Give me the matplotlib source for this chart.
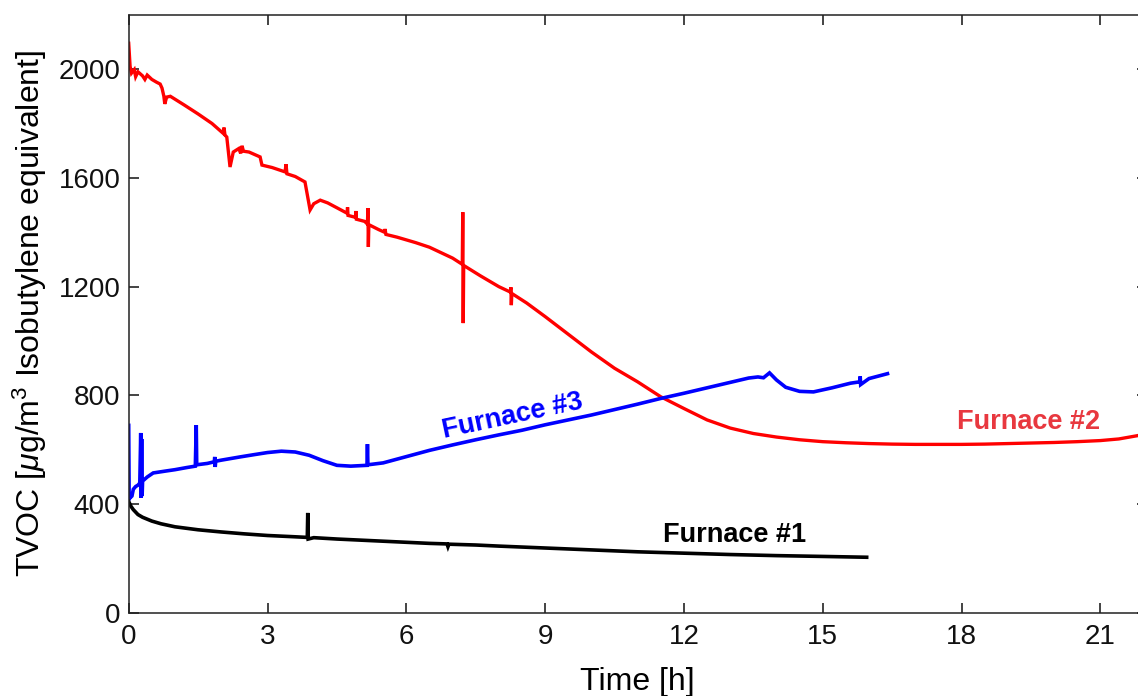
import matplotlib
matplotlib.use("Agg")
import matplotlib.pyplot as plt

plt.rcParams['font.family'] = ['Liberation Sans', 'DejaVu Sans']
plt.rcParams['mathtext.fontset'] = 'custom'
plt.rcParams['mathtext.rm'] = 'Liberation Sans'
plt.rcParams['mathtext.it'] = 'Liberation Sans:italic'
plt.rcParams['mathtext.bf'] = 'Liberation Sans:bold'

# Furnace #1 (black)
f1_t = [0.0, 0.05, 0.1, 0.2, 0.3, 0.5, 0.7, 1.0, 1.5, 2.0, 2.5, 3.0, 3.5, 3.86, 3.87, 3.88,
        4.0, 4.5, 5.0, 5.5, 6.0, 6.5, 6.88, 6.9, 6.92, 7.5, 8.0, 9.0, 10.0, 11.0, 12.0,
        13.0, 14.0, 15.0, 15.95]
f1_v = [410, 392, 380, 362, 352, 338, 328, 317, 306, 298, 291, 285, 281, 278, 368, 272,
        277, 272, 268, 264, 260, 256, 254, 244, 253, 250, 246, 239, 232, 225, 220,
        215, 211, 208, 205]

# Furnace #2 (red)
f2_t = [0.0, 0.03, 0.06, 0.12, 0.15, 0.2, 0.3, 0.35, 0.4, 0.5, 0.6, 0.68, 0.72, 0.76, 0.78,
        0.82, 0.9, 1.2, 1.5, 1.8, 2.04, 2.06, 2.08, 2.12, 2.19, 2.26, 2.38, 2.42, 2.45, 2.48,
        2.6, 2.84, 2.88, 3.1, 3.38, 3.40, 3.42, 3.6, 3.81, 3.92, 4.0, 4.14, 4.3, 4.5, 4.72,
        4.73, 4.74, 4.9, 4.91, 4.92, 5.1, 5.16, 5.17, 5.18, 5.19, 5.4, 5.53, 5.54, 5.56, 5.8,
        6.2, 6.5, 7.0, 7.21, 7.22, 7.23, 7.24, 7.6, 8.0, 8.25, 8.26, 8.27, 8.28, 8.6, 9.0,
        9.5, 10.0, 10.5, 11.0, 11.5, 12.0, 12.5, 13.0, 13.5, 14.0, 14.5, 15.0, 15.5, 16.0,
        16.5, 17.0, 17.5, 18.0, 18.5, 19.0, 19.5, 20.0, 20.5, 21.0, 21.4, 21.8, 22.0]
f2_v = [2095, 2010, 1985, 1998, 1972, 1990, 1975, 1962, 1978, 1962, 1952, 1945, 1930, 1900, 1872,
        1897, 1900, 1868, 1835, 1800, 1764, 1785, 1758, 1750, 1640, 1695, 1708, 1690, 1718, 1698,
        1695, 1677, 1647, 1638, 1622, 1650, 1615, 1605, 1585, 1482, 1505, 1518, 1508, 1490, 1470,
        1492, 1462, 1455, 1478, 1448, 1440, 1430, 1489, 1346, 1428, 1410, 1400, 1412, 1392, 1382,
        1362, 1345, 1305, 1282, 1474, 1066, 1278, 1240, 1200, 1180, 1198, 1132, 1175, 1140, 1090,
        1025, 960, 900, 850, 795, 752, 710, 680, 660, 647, 637, 630, 626, 623,
        621, 620, 620, 620, 621, 623, 625, 627, 630, 634, 640, 652, 660]

# Furnace #3 (blue)
f3_t = [0.0, 0.01, 0.02, 0.04, 0.07, 0.1, 0.15, 0.2, 0.24, 0.26, 0.27, 0.28, 0.29, 0.3, 0.4,
        0.53, 0.8, 1.0, 1.26, 1.44, 1.46, 1.47, 1.7, 1.85, 1.86, 1.87, 1.88, 2.0, 2.41, 2.7,
        3.0, 3.3, 3.6, 3.9, 4.2, 4.5, 4.8, 5.15, 5.16, 5.17, 5.5, 6.0, 6.5, 7.0, 7.5, 8.0,
        8.5, 9.0, 9.5, 10.0, 10.5, 11.0, 11.5, 12.0, 12.5, 13.0, 13.4, 13.6, 13.72, 13.85,
        14.0, 14.2, 14.5, 14.8, 15.2, 15.6, 15.8, 15.81, 15.82, 16.0, 16.4]
f3_v = [690, 415, 440, 425, 430, 455, 465, 470, 478, 662, 423, 640, 430, 485, 500,
        515, 522, 527, 535, 540, 691, 545, 550, 556, 574, 537, 558, 562, 574, 582,
        590, 595, 592, 580, 560, 543, 540, 543, 621, 545, 552, 575, 598, 618, 637, 655,
        672, 692, 710, 728, 748, 768, 789, 808, 828, 848, 864, 868, 865, 883,
        857, 830, 815, 813, 828, 845, 850, 870, 840, 862, 880]

x_ticks = [0, 3, 6, 9, 12, 15, 18, 21]
y_ticks = [0, 400, 800, 1200, 1600, 2000]

W, H = 1138, 696
fig = plt.figure(figsize=(W / 100, H / 100), dpi=100)
ax = fig.add_axes([128.7 / W, 83 / H, (1146.6 - 128.7) / W, (613 - 14.7) / H])

ax.plot(f2_t, f2_v, color='#ff0000', lw=2.4, solid_joinstyle='miter')
ax.plot(f3_t, f3_v, color='#0000ff', lw=2.6, solid_joinstyle='miter')
ax.plot(f1_t, f1_v, color='#000000', lw=2.6, solid_joinstyle='miter')

ax.set_xlim(0, 22)
ax.set_ylim(0, 2200)
ax.set_xticks(x_ticks)
ax.set_yticks(y_ticks)
ax.tick_params(direction='in', length=7, width=1.1, top=True, right=True,
               labelsize=20, colors='#111111')
ax.tick_params(axis='x', pad=8)
ax.tick_params(axis='y', pad=6)
for s in ax.spines.values():
    s.set_linewidth(1.1)
    s.set_color('#222222')

ax.set_xlabel('Time [h]', fontsize=23, labelpad=12)
ax.set_ylabel(r'TVOC [$\mu$g/m$^3$ Isobutylene equivalent]', fontsize=23, labelpad=7)

ax.text(13.1, 287, 'Furnace #1', color='black', fontsize=19.5, fontweight='bold',
        ha='center', va='center')
ax.text(19.44, 702, 'Furnace #2', color='#e8383f', fontsize=19.5, fontweight='bold',
        ha='center', va='center')
ax.text(8.3, 722, 'Furnace #3', color='#0000ff', fontsize=19.5, fontweight='bold',
        ha='center', va='center', rotation=12, rotation_mode='anchor')

fig.savefig('out.png', dpi=100)
